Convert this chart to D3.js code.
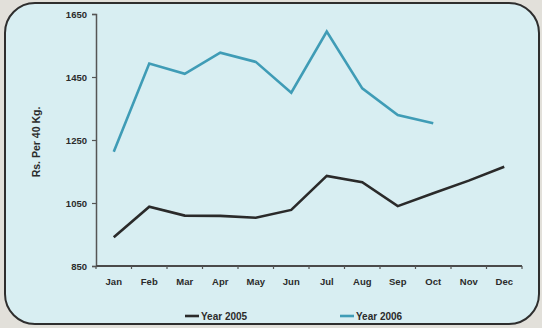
<!DOCTYPE html>
<html>
<head>
<meta charset="utf-8">
<script src="https://cdn.jsdelivr.net/npm/d3@7"></script>
<style>
  html, body { margin: 0; padding: 0; background: #e2e0da; }
  svg { display: block; }
  text { font-family: "Liberation Sans", Arial, sans-serif; font-weight: bold; fill: #2b2b2b; }
</style>
</head>
<body>
<svg id="chart" width="542" height="328"></svg>
<script>
// Monthly price, Rs. per 40 Kg
const months = ["Jan","Feb","Mar","Apr","May","Jun","Jul","Aug","Sep","Oct","Nov","Dec"];
const year2005 = [941, 1038, 1010, 1009, 1003, 1028, 1136, 1116, 1040, 1081, 1121, 1165];
const year2006 = [1213, 1493, 1460, 1527, 1498, 1400, 1594, 1414, 1329, 1303];
const yTicks = [850, 1050, 1250, 1450, 1650];
const seriesNames = ["Year 2005", "Year 2006"];
const seriesColors = ["#2a2a2a", "#3f9cb6"];

const svg = d3.select("#chart");
const W = 542, H = 328;

// rounded panel
svg.append("rect")
  .attr("x", 5).attr("y", 3).attr("width", 534).attr("height", 321)
  .attr("rx", 30).attr("ry", 30)
  .attr("fill", "#d8eef2").attr("stroke", "#2e2e2e").attr("stroke-width", 2);

const plot = { left: 96, right: 522, top: 14, bottom: 266 };

const x = d3.scaleBand().domain(months).range([plot.left, plot.right]).paddingInner(0).paddingOuter(0);
const y = d3.scaleLinear().domain([850, 1650]).range([plot.bottom, plot.top]);

// y axis
const yAxis = svg.append("g")
  .attr("transform", `translate(${plot.left},0)`)
  .call(d3.axisLeft(y).tickValues(yTicks).tickSize(4).tickPadding(5).tickFormat(d3.format("d")));
yAxis.select(".domain").attr("stroke", "#555").attr("stroke-width", 1.5);
yAxis.selectAll(".tick line").attr("stroke", "#555").attr("stroke-width", 1.2);
yAxis.selectAll("text").attr("font-size", 9.5).attr("fill", "#2b2b2b").style("font-family", "'Liberation Sans', Arial, sans-serif").style("font-weight", "bold");

// x axis with ticks between categories
const xAxisG = svg.append("g").attr("transform", `translate(0,${plot.bottom})`);
xAxisG.append("line")
  .attr("x1", plot.left).attr("x2", plot.right)
  .attr("stroke", "#4a4a4a").attr("stroke-width", 2);
const boundaries = d3.range(months.length + 1).map(i => plot.left + i * x.step());
xAxisG.selectAll("line.tk").data(boundaries).join("line")
  .attr("class", "tk")
  .attr("x1", d => d).attr("x2", d => d).attr("y1", 0).attr("y2", 3)
  .attr("stroke", "#555").attr("stroke-width", 1.2);
xAxisG.selectAll("text").data(months).join("text")
  .attr("x", d => x(d) + x.bandwidth() / 2)
  .attr("y", 19)
  .attr("text-anchor", "middle")
  .attr("font-size", 9.5)
  .text(d => d);

// y axis title
svg.append("text")
  .attr("transform", `translate(40,${(plot.top + plot.bottom) / 2 + 2}) rotate(-90)`)
  .attr("text-anchor", "middle")
  .attr("font-size", 10.5)
  .text("Rs. Per 40 Kg.");

// lines
const line = d3.line()
  .x((d, i) => x(months[i]) + x.bandwidth() / 2)
  .y(d => y(d));

[year2005, year2006].forEach((vals, k) => {
  svg.append("path")
    .datum(vals)
    .attr("fill", "none")
    .attr("stroke", seriesColors[k])
    .attr("stroke-width", 2.6)
    .attr("stroke-linejoin", "miter")
    .attr("d", line);
});

// legend
const legendX = [185, 340];
seriesNames.forEach((name, k) => {
  const g = svg.append("g").attr("transform", `translate(${legendX[k]},316)`);
  g.append("line").attr("x1", 0).attr("x2", 14).attr("y1", 0).attr("y2", 0)
    .attr("stroke", seriesColors[k]).attr("stroke-width", 2.6);
  g.append("text").attr("x", 16).attr("y", 3.5).attr("font-size", 10).text(name);
});
</script>
</body>
</html>
